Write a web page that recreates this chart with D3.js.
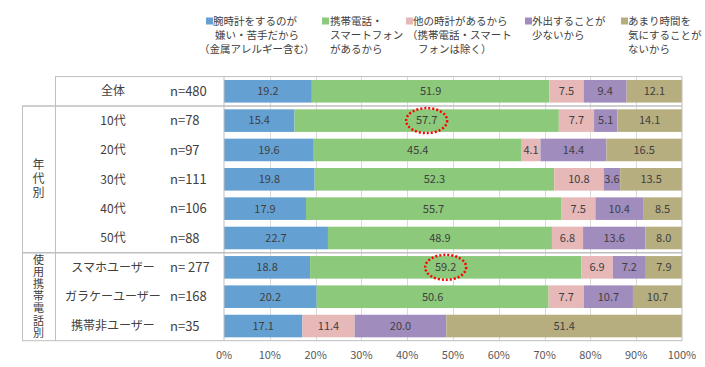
<!DOCTYPE html>
<html>
<head>
<meta charset="utf-8">
<script src="https://cdn.jsdelivr.net/npm/d3@7"></script>
<style>
  body { margin: 0; background: #fff; }
  svg { display: block; font-family: "Noto Sans CJK JP", "Noto Sans", sans-serif; }
</style>
</head>
<body>
<svg id="chart" width="705" height="367"></svg>
<script>
// rows (top to bottom)
var categories = ['全体', '10代', '20代', '30代', '40代', '50代', 'スマホユーザー', 'ガラケーユーザー', '携帯非ユーザー'];
var nLabels = ['n=480', 'n=78', 'n=97', 'n=111', 'n=106', 'n=88', 'n= 277', 'n=168', 'n=35'];
var groups = [
    { name: '年代別', first: '10代', last: '50代' },
    { name: '使用携帯電話別', first: 'スマホユーザー', last: '携帯非ユーザー' }
];

// series
var seriesKeys = ['s1', 's2', 's3', 's4', 's5'];
var legendText = [
    ['腕時計をするのが', '嫌い・苦手だから', '（金属アレルギー含む）'],
    ['携帯電話・', 'スマートフォン', 'があるから'],
    ['他の時計があるから', '（携帯電話・スマート', 'フォンは除く）'],
    ['外出することが', '少ないから'],
    ['あまり時間を', '気にすることが', 'ないから']
];
var s1 = [19.2, 15.4, 19.6, 19.8, 17.9, 22.7, 18.8, 20.2, 17.1];
var s2 = [51.9, 57.7, 45.4, 52.3, 55.7, 48.9, 59.2, 50.6, 0];
var s3 = [7.5, 7.7, 4.1, 10.8, 7.5, 6.8, 6.9, 7.7, 11.4];
var s4 = [9.4, 5.1, 14.4, 3.6, 10.4, 13.6, 7.2, 10.7, 20.0];
var s5 = [12.1, 14.1, 16.5, 13.5, 8.5, 8.0, 7.9, 10.7, 51.4];
var ticks = [0, 0.1, 0.2, 0.3, 0.4, 0.5, 0.6, 0.7, 0.8, 0.9, 1];

// circled values
var highlights = [{ row: '10代', key: 's2' }, { row: 'スマホユーザー', key: 's2' }];

var colors = ['#65A0D2', '#8CC97A', '#E6B8B7', '#A08CBD', '#B7AE7F'];
var lineColor = '#BFBFBF';
var textColor = '#404040';

var table = categories.map(function (c, i) {
    return { cat: c, n: nLabels[i], s1: s1[i], s2: s2[i], s3: s3[i], s4: s4[i], s5: s5[i] };
});

var svg = d3.select('#chart');

var x = d3.scaleLinear().domain([0, 1]).range([224, 682]);
var y = d3.scaleBand().domain(categories).range([76.6, 340.7]).paddingInner(0.23).paddingOuter(0.115);
var step = y.step();
var gap = (step - y.bandwidth()) / 2;
var top0 = 76.6, bottom0 = 340.7;

// gridlines
svg.append('g').selectAll('line')
    .data(ticks.slice(1, -1))
    .enter().append('line')
    .attr('x1', function (d) { return Math.round(x(d)) + 0.5; })
    .attr('x2', function (d) { return Math.round(x(d)) + 0.5; })
    .attr('y1', top0)
    .attr('y2', bottom0)
    .attr('stroke', '#D9D9D9')
    .attr('stroke-width', 1);

// stacked bars (100% stacked)
var stack = d3.stack().keys(seriesKeys).offset(d3.stackOffsetExpand);
var layers = stack(table);

var layer = svg.append('g').selectAll('g')
    .data(layers)
    .enter().append('g')
    .attr('fill', function (d, i) { return colors[i]; });

layer.selectAll('rect')
    .data(function (d) { return d; })
    .enter().append('rect')
    .attr('x', function (d) { return x(d[0]); })
    .attr('y', function (d) { return y(d.data.cat); })
    .attr('width', function (d) { return Math.max(0, x(d[1]) - x(d[0])); })
    .attr('height', y.bandwidth());

layer.selectAll('text')
    .data(function (d) { return d.map(function (p) { p.key = d.key; return p; }); })
    .enter().filter(function (d) { return d.data[d.key] > 0; })
    .append('text')
    .attr('x', function (d) { return (x(d[0]) + x(d[1])) / 2; })
    .attr('y', function (d) { return y(d.data.cat) + y.bandwidth() / 2; })
    .attr('dy', '0.35em')
    .attr('text-anchor', 'middle')
    .style('font-size', '11px')
    .style('fill', textColor)
    .text(function (d) { return d.data[d.key].toFixed(1); });

// table lines
var lines = svg.append('g').attr('stroke', lineColor).attr('stroke-width', 1).attr('fill', 'none');
var sep1 = y('10代') - gap;
var sep2 = y('スマホユーザー') - gap;
lines.append('line').attr('x1', 55).attr('x2', 682).attr('y1', top0).attr('y2', top0);
lines.append('line').attr('x1', 22).attr('x2', 682).attr('y1', sep1).attr('y2', sep1).attr('stroke-width', 1.5);
lines.append('line').attr('x1', 22).attr('x2', 682).attr('y1', sep2).attr('y2', sep2).attr('stroke-width', 1.5);
lines.append('line').attr('x1', 22).attr('x2', 682).attr('y1', bottom0).attr('y2', bottom0);
lines.append('line').attr('x1', 22.5).attr('x2', 22.5).attr('y1', sep1).attr('y2', bottom0);
lines.append('line').attr('x1', 55.5).attr('x2', 55.5).attr('y1', top0).attr('y2', bottom0);
lines.append('line').attr('x1', 224).attr('x2', 224).attr('y1', top0).attr('y2', bottom0);
lines.append('line').attr('x1', 682).attr('x2', 682).attr('y1', top0).attr('y2', bottom0);

// category + n labels
var rowLabels = svg.append('g').style('font-size', '12px').style('fill', textColor);
rowLabels.selectAll('.cat')
    .data(categories)
    .enter().append('text')
    .attr('class', 'cat')
    .attr('x', 113)
    .attr('y', function (d) { return y(d) + y.bandwidth() / 2; })
    .attr('dy', '0.35em')
    .attr('text-anchor', 'middle')
    .text(function (d) { return d; });

rowLabels.selectAll('.n')
    .data(table)
    .enter().append('text')
    .attr('class', 'n')
    .attr('x', 170)
    .attr('y', function (d) { return y(d.cat) + y.bandwidth() / 2; })
    .attr('dy', '0.35em')
    .style('font-size', '13px')
    .text(function (d) { return d.n; });

// group labels, written vertically
groups.forEach(function (g) {
    var y0 = y(g.first) - gap;
    var y1 = y(g.last) + y.bandwidth() + gap;
    var long = g.name.length > 4;
    svg.append('text')
        .attr('x', 38.5)
        .attr('y', (y0 + y1) / 2)
        .attr('text-anchor', 'middle')
        .style('writing-mode', 'vertical-rl')
        .style('font-size', long ? '11px' : '12px')
        .style('letter-spacing', long ? '1.2px' : '2px')
        .style('fill', textColor)
        .text(g.name);
});

// x axis labels
svg.append('g').selectAll('text')
    .data(ticks)
    .enter().append('text')
    .attr('x', function (d) { return x(d); })
    .attr('y', 355)
    .attr('dy', '0.35em')
    .attr('text-anchor', 'middle')
    .style('font-size', '11px')
    .style('fill', '#595959')
    .text(function (d) { return d3.format('.0%')(d); });

// circled values
highlights.forEach(function (h) {
    var lay = layers[seriesKeys.indexOf(h.key)];
    var p = lay[categories.indexOf(h.row)];
    svg.append('ellipse')
        .attr('cx', (x(p[0]) + x(p[1])) / 2)
        .attr('cy', y(h.row) + y.bandwidth() / 2)
        .attr('rx', 20.5)
        .attr('ry', 12.5)
        .attr('fill', 'none')
        .attr('stroke', '#FF0000')
        .attr('stroke-width', 2.5)
        .attr('stroke-dasharray', '2,2');
});

// legend
var legendX = [206, 322, 406, 525, 621];
var lineIndent = [[7, 9, -7], [8, 8, 8], [7, 1, 12], [7, 7], [7, 7, 7]];
var legend = svg.append('g').style('font-size', '10.5px').style('fill', textColor);
legendText.forEach(function (ls, i) {
    var g = legend.append('g').attr('transform', 'translate(' + legendX[i] + ',0)');
    g.append('rect')
        .attr('x', 0).attr('y', 17.5)
        .attr('width', 7).attr('height', 7)
        .attr('fill', colors[i]);
    g.selectAll('text')
        .data(ls)
        .enter().append('text')
        .attr('x', function (d, j) { return lineIndent[i][j]; })
        .attr('y', function (d, j) { return 21 + j * 14; })
        .attr('dy', '0.38em')
        .text(function (d) { return d; });
});
</script>
</body>
</html>
